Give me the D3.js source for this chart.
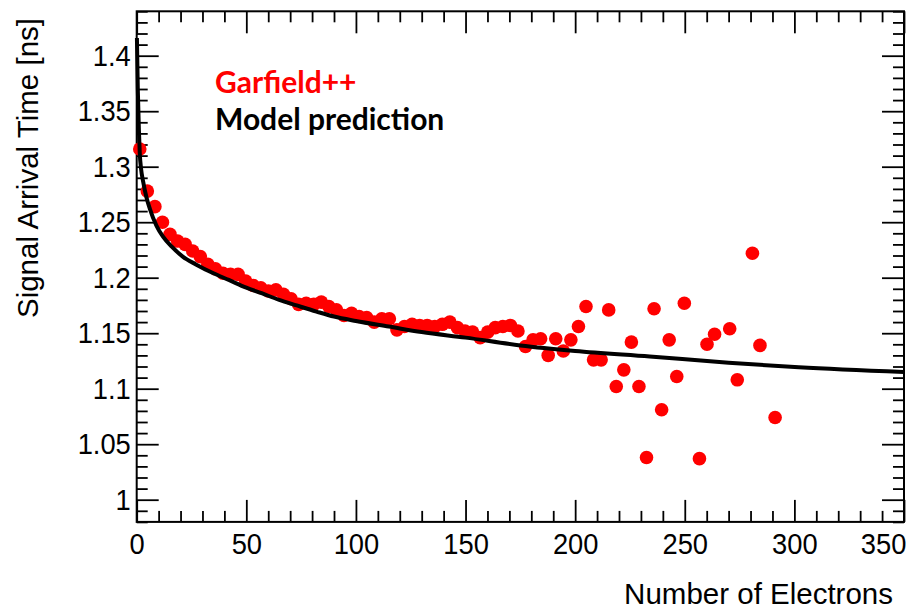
<!DOCTYPE html>
<html>
<head>
<meta charset="utf-8">
<script src="https://cdn.jsdelivr.net/npm/d3@7"></script>
<style>
  html, body { margin: 0; padding: 0; background: #ffffff; }
  svg { display: block; }
</style>
</head>
<body>
<svg id="chart" width="919" height="611"></svg>
<script>
// ---------------- data ----------------
const electrons = [1.4, 4.85, 8.3, 11.75, 15.2, 18.65, 22.1, 25.55, 29.0, 32.45,
  35.9, 39.35, 42.8, 46.25, 49.7, 53.15, 56.6, 60.05, 63.5, 66.95,
  70.4, 73.85, 77.3, 80.75, 84.2, 87.65, 91.1, 94.55, 98.0, 101.45,
  104.9, 108.35, 111.8, 115.25, 118.7, 122.15, 125.6, 129.05, 132.5, 135.95,
  139.4, 142.85, 146.3, 149.75, 153.2, 156.65, 160.1, 163.55, 167.0, 170.45,
  173.9, 177.35, 180.8, 184.25, 187.7, 191.15, 194.6, 198.05, 201.5, 204.95,
  208.4, 211.85, 215.3, 218.75, 222.2, 225.65, 229.1, 232.55, 236.0, 239.45,
  242.9, 246.35, 249.8, 256.7, 260.15, 263.6, 270.5, 273.95, 280.85, 284.3, 291.2];

const garfieldTime = [1.316, 1.278, 1.264, 1.250, 1.239, 1.233, 1.230, 1.224, 1.219, 1.212,
  1.208, 1.204, 1.203, 1.203, 1.197, 1.193, 1.191, 1.188, 1.189, 1.185,
  1.181, 1.176, 1.177, 1.176, 1.178, 1.174, 1.171, 1.166, 1.168, 1.165,
  1.164, 1.160, 1.163, 1.163, 1.153, 1.156, 1.158, 1.157, 1.157, 1.156,
  1.158, 1.160, 1.155, 1.152, 1.151, 1.146, 1.151, 1.155, 1.156, 1.157,
  1.152, 1.138, 1.144, 1.145, 1.130, 1.145, 1.134, 1.144, 1.156, 1.174,
  1.126, 1.126, 1.171, 1.102, 1.117, 1.142, 1.102, 1.038, 1.172, 1.081,
  1.144, 1.111, 1.177, 1.037, 1.140, 1.149, 1.154, 1.108, 1.222, 1.139, 1.074];

const modelElectrons = [0.1, 0.5, 1.0, 1.4, 2.0, 2.9, 4.5, 6, 9, 12, 16, 21, 27, 35, 42,
  50, 57, 65, 73, 82, 90, 100, 115, 130, 150, 175, 200, 234, 270, 302, 350];
const modelTime = [1.416, 1.37, 1.333, 1.312, 1.298, 1.287, 1.272, 1.262, 1.247, 1.237,
  1.228, 1.219, 1.212, 1.204, 1.198, 1.191, 1.186, 1.180, 1.175, 1.1695, 1.165, 1.161,
  1.156, 1.151, 1.146, 1.139, 1.134, 1.129, 1.1234, 1.1193, 1.115];

const xMajorTicks = [0, 50, 100, 150, 200, 250, 300, 350];
const xTickLabels = ["0", "50", "100", "150", "200", "250", "300", "350"];
const yMajorTicks = [1, 1.05, 1.1, 1.15, 1.2, 1.25, 1.3, 1.35, 1.4];
const yTickLabels = ["1", "1.05", "1.1", "1.15", "1.2", "1.25", "1.3", "1.35", "1.4"];

const xTitle = "Number of Electrons";
const yTitle = "Signal Arrival Time [ns]";
const legendLabels = ["Garfield++", "Model prediction"];
const legendColors = ["#ff0000", "#000000"];

// ---------------- layout ----------------
const W = 919, H = 611;
const margin = {left: 136.7, right: 15, top: 11.3, bottom: 89.1};
const x0 = margin.left, x1 = W - margin.right;
const y0 = H - margin.bottom, y1 = margin.top;

const x = d3.scaleLinear().domain([0, 350]).range([x0, x1]);
const y = d3.scaleLinear().domain([0.98, 1.44]).range([y0, y1]);

const svg = d3.select("#chart");
const axisFont = "'Liberation Sans', Arial, Helvetica, sans-serif";

const xMinor = d3.range(0, 351, 10).filter(v => v % 50 !== 0);
const yMinor = d3.range(98, 145, 1).map(v => v / 100).filter(v => Math.round(v * 100) % 5 !== 0);

const majLen = 22, minLen = 11;
const tickFontSize = 30, tickScaleX = 0.91;

function styleAxis(g) {
  g.select(".domain").remove();
  g.selectAll("line").attr("stroke", "#000").attr("stroke-width", 1.8);
}

// bottom axis
svg.append("g").attr("transform", `translate(0,${y0})`)
  .call(d3.axisBottom(x).tickValues(xMajorTicks).tickSize(-majLen).tickPadding(10.5)
    .tickFormat((d, i) => xTickLabels[i]))
  .call(styleAxis)
  .call(g => g.selectAll("text").attr("font-family", axisFont).attr("font-size", tickFontSize)
    .attr("fill", "#000").attr("transform", `scale(${tickScaleX},1)`))
  .call(g => g.selectAll(".tick:last-of-type text").attr("text-anchor", "end").attr("x", 2));
svg.append("g").attr("transform", `translate(0,${y0})`)
  .call(d3.axisBottom(x).tickValues(xMinor).tickSize(-minLen).tickFormat(""))
  .call(styleAxis);
// top axis (mirror)
svg.append("g").attr("transform", `translate(0,${y1})`)
  .call(d3.axisTop(x).tickValues(xMajorTicks).tickSize(-majLen).tickFormat(""))
  .call(styleAxis);
svg.append("g").attr("transform", `translate(0,${y1})`)
  .call(d3.axisTop(x).tickValues(xMinor).tickSize(-minLen).tickFormat(""))
  .call(styleAxis);

// left axis
svg.append("g").attr("transform", `translate(${x0},0)`)
  .call(d3.axisLeft(y).tickValues(yMajorTicks).tickSize(-majLen).tickPadding(6.5)
    .tickFormat((d, i) => yTickLabels[i]))
  .call(styleAxis)
  .call(g => g.selectAll("text").attr("font-family", axisFont).attr("font-size", tickFontSize)
    .attr("fill", "#000").attr("transform", `scale(${tickScaleX},1)`));
svg.append("g").attr("transform", `translate(${x0},0)`)
  .call(d3.axisLeft(y).tickValues(yMinor).tickSize(-minLen).tickFormat(""))
  .call(styleAxis);
// right axis (mirror)
svg.append("g").attr("transform", `translate(${x1},0)`)
  .call(d3.axisRight(y).tickValues(yMajorTicks).tickSize(-majLen).tickFormat(""))
  .call(styleAxis);
svg.append("g").attr("transform", `translate(${x1},0)`)
  .call(d3.axisRight(y).tickValues(yMinor).tickSize(-minLen).tickFormat(""))
  .call(styleAxis);

// frame
svg.append("rect")
  .attr("x", x0).attr("y", y1).attr("width", x1 - x0).attr("height", y0 - y1)
  .attr("fill", "none").attr("stroke", "#000").attr("stroke-width", 2);

// data points
const pts = electrons.map((e, i) => ({e, t: garfieldTime[i]}));
svg.append("g").selectAll("circle").data(pts).join("circle")
  .attr("cx", d => x(d.e)).attr("cy", d => y(d.t)).attr("r", 6.8)
  .attr("fill", legendColors[0]);

// model curve
const model = modelElectrons.map((e, i) => ({e, t: modelTime[i]}));
svg.append("path").datum(model)
  .attr("fill", "none").attr("stroke", legendColors[1]).attr("stroke-width", 4)
  .attr("d", d3.line().x(d => x(d.e)).y(d => y(d.t)).curve(d3.curveMonotoneX));

// axis titles
svg.append("text").attr("x", 893).attr("y", 604).attr("text-anchor", "end")
  .attr("font-family", axisFont).attr("font-size", 29.5).attr("fill", "#000").text(xTitle);
svg.append("text").attr("transform", "translate(38,18) rotate(-90)").attr("text-anchor", "end")
  .attr("font-family", axisFont).attr("font-size", 29.5).attr("fill", "#000").text(yTitle);

// legend texts
const legY = [93, 130];
legendLabels.forEach((lab, i) => {
  svg.append("text").attr("x", 215).attr("y", legY[i])
    .attr("font-family", "Lato, 'Open Sans', sans-serif").attr("font-weight", "bold")
    .attr("font-size", 30).attr("fill", legendColors[i]).text(lab);
});
</script>
</body>
</html>
